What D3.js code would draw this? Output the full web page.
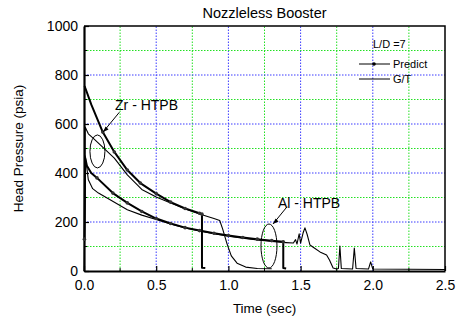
<!DOCTYPE html>
<html>
<head>
<meta charset="utf-8">
<script src="https://cdn.jsdelivr.net/npm/d3@7"></script>
<style>
  body { margin: 0; background: #fff; }
  text { font-family: "Liberation Sans", Arial, sans-serif; fill: #000; }
</style>
</head>
<body>
<div id="chart"></div>
<script>
// ==== DATA (time in sec, pressure in psia) ====
const ZR_PREDICT = [
  [0.004, 755], [0.05, 680], [0.13, 567], [0.21, 486], [0.30, 412], [0.39, 359],
  [0.50, 316], [0.60, 281], [0.70, 255], [0.80, 236], [0.817, 232], [0.817, 13], [0.84, 12]
];
const ZR_GT = [
  [0.002, 0], [0.008, 588], [0.03, 560], [0.076, 535], [0.21, 461], [0.30, 392], [0.40, 333],
  [0.50, 302], [0.60, 278], [0.70, 254], [0.80, 233], [0.90, 214], [0.94, 206],
  [0.96, 172], [0.99, 112], [1.02, 62], [1.06, 32], [1.12, 16], [1.20, 10], [1.30, 9]
];
const AL_PREDICT = [
  [0.003, 130], [0.008, 462], [0.02, 430], [0.05, 400], [0.09, 380], [0.20, 318], [0.30, 278],
  [0.40, 243], [0.50, 214], [0.60, 194], [0.70, 177], [0.80, 165], [0.90, 154],
  [1.00, 145], [1.10, 137], [1.20, 130], [1.30, 124], [1.38, 119], [1.38, 12], [1.40, 10]
];
const AL_GT = [
  [0.002, 0], [0.008, 470], [0.02, 420], [0.03, 372], [0.06, 336], [0.10, 318], [0.16, 298],
  [0.30, 250], [0.40, 228], [0.50, 210], [0.60, 192], [0.70, 176], [0.80, 163],
  [0.90, 152], [1.00, 142], [1.10, 134], [1.20, 127], [1.30, 121], [1.40, 116],
  [1.45, 114], [1.465, 128], [1.475, 110], [1.49, 152], [1.50, 114], [1.517, 155],
  [1.53, 176], [1.545, 150], [1.565, 106], [1.60, 92], [1.634, 78], [1.68, 65],
  [1.70, 45], [1.725, 12], [1.75, 8], [1.762, 10], [1.772, 102], [1.782, 10],
  [1.86, 8], [1.872, 94], [1.884, 10], [1.97, 8], [1.985, 37], [2.0, 8], [2.5, 6]
];
const X_TICKS = [0, 0.5, 1.0, 1.5, 2.0, 2.5];
const Y_TICKS = [0, 200, 400, 600, 800, 1000];
const X_MINOR = [0.25, 0.75, 1.25, 1.75, 2.25];
const Y_MINOR = [100, 300, 500, 700, 900];

// ==== SIZE / MARGINS ====
const width = 461, height = 321;
const margin = { top: 26, right: 16, bottom: 50, left: 84 };

const x = d3.scaleLinear().domain([0, 2.5]).range([margin.left, width - margin.right]);
const y = d3.scaleLinear().domain([0, 1000]).range([height - margin.bottom, margin.top]);

const svg = d3.select("#chart").append("svg")
  .attr("width", width).attr("height", height);

// grid
const grid = svg.append("g").attr("fill", "none").attr("stroke-width", 1).attr("stroke-dasharray", "1.5,1.5");
grid.selectAll("line.gxm").data(X_MINOR).enter().append("line")
  .attr("x1", d => x(d)).attr("x2", d => x(d)).attr("y1", y(0)).attr("y2", y(1000))
  .attr("stroke", "#22e022");
grid.selectAll("line.gxM").data(X_TICKS.slice(1, -1)).enter().append("line")
  .attr("x1", d => x(d)).attr("x2", d => x(d)).attr("y1", y(0)).attr("y2", y(1000))
  .attr("stroke", "#3a3aff");
grid.selectAll("line.gym").data(Y_MINOR).enter().append("line")
  .attr("y1", d => y(d)).attr("y2", d => y(d)).attr("x1", x(0)).attr("x2", x(2.5))
  .attr("stroke", "#22e022");
grid.selectAll("line.gyM").data(Y_TICKS.slice(1, -1)).enter().append("line")
  .attr("y1", d => y(d)).attr("y2", d => y(d)).attr("x1", x(0)).attr("x2", x(2.5))
  .attr("stroke", "#3a3aff");

// frame (top / right)
svg.append("path")
  .attr("d", `M${x(0)},${y(1000)}H${x(2.5)}V${y(0)}`)
  .attr("fill", "none").attr("stroke", "#000").attr("stroke-width", 1.5);

// axes
const gx = svg.append("g").attr("transform", `translate(0,${y(0)})`)
  .call(d3.axisBottom(x).tickValues(X_TICKS).tickFormat(d3.format(".1f")).tickSizeInner(-5).tickSizeOuter(0).tickPadding(9));
const gy = svg.append("g").attr("transform", `translate(${x(0)},0)`)
  .call(d3.axisLeft(y).tickValues(Y_TICKS).tickFormat(d3.format("d")).tickSizeInner(-5).tickSizeOuter(0).tickPadding(6));
[gx, gy].forEach(g => {
  g.select(".domain").attr("stroke-width", 2.2);
  g.selectAll(".tick text").attr("font-size", 14).attr("font-family", "Liberation Sans, Arial, sans-serif");
  g.selectAll(".tick line").attr("stroke-width", 1.2);
});
svg.append("g").selectAll("line").data(X_MINOR).enter().append("line")
  .attr("x1", d => x(d)).attr("x2", d => x(d)).attr("y1", y(0)).attr("y2", y(0) - 3)
  .attr("stroke", "#000");
svg.append("g").selectAll("line").data(Y_MINOR).enter().append("line")
  .attr("y1", d => y(d)).attr("y2", d => y(d)).attr("x1", x(0)).attr("x2", x(0) + 3)
  .attr("stroke", "#000");

// title & labels
svg.append("text").attr("x", (x(0) + x(2.5)) / 2).attr("y", 18)
  .attr("text-anchor", "middle").attr("font-size", 14.5).text("Nozzleless Booster");
svg.append("text").attr("x", (x(0) + x(2.5)) / 2).attr("y", 313)
  .attr("text-anchor", "middle").attr("font-size", 13.5).text("Time (sec)");
svg.append("text").attr("transform", `translate(23,${(y(0) + y(1000)) / 2}) rotate(-90)`)
  .attr("text-anchor", "middle").attr("font-size", 13.5).text("Head Pressure (psia)");

// lines
const line = d3.line().x(d => x(d[0])).y(d => y(d[1]));
const gLines = svg.append("g").attr("fill", "none").attr("stroke", "#000").attr("stroke-linejoin", "round");
[ZR_GT, AL_GT].forEach(s => gLines.append("path").attr("d", line(s)).attr("stroke-width", 1.1));
[ZR_PREDICT, AL_PREDICT].forEach(s => {
  gLines.append("path").attr("d", line(s)).attr("stroke-width", 2);
  svg.append("g").selectAll("circle")
    .data(s.filter(d => d[0] >= 0.09 && d[1] > 20)).enter().append("circle")
    .attr("cx", d => x(d[0])).attr("cy", d => y(d[1])).attr("r", 1.8).attr("fill", "#333");
});
svg.append("circle").attr("cx", x(AL_PREDICT[0][0])).attr("cy", y(AL_PREDICT[0][1])).attr("r", 1.8).attr("fill", "#333");

// annotations
const ann = svg.append("g").attr("fill", "none").attr("stroke", "#000").attr("stroke-width", 1);
ann.append("ellipse").attr("cx", x(0.093)).attr("cy", y(488)).attr("rx", 7.5).attr("ry", 16.5);
ann.append("ellipse").attr("cx", x(1.281)).attr("cy", y(102)).attr("rx", 8).attr("ry", 22);
ann.append("line").attr("x1", x(0.132)).attr("y1", y(567)).attr("x2", x(0.245)).attr("y2", y(648));
ann.append("line").attr("x1", x(1.309)).attr("y1", y(192)).attr("x2", x(1.406)).attr("y2", y(262));
svg.append("path").attr("d", `M${x(0.132)},${y(567)}l2.5,-5.5l3,3z`).attr("fill", "#000");
svg.append("path").attr("d", `M${x(1.309)},${y(192)}l2.5,-5.5l3,3z`).attr("fill", "#000");
svg.append("text").attr("x", x(0.215)).attr("y", 110).attr("font-size", 14).text("Zr - HTPB");
svg.append("text").attr("x", x(1.343)).attr("y", 208).attr("font-size", 14).text("Al - HTPB");

// legend
const lg = svg.append("g");
lg.append("text").attr("x", 373).attr("y", 48).attr("font-size", 11).text("L/D =7");
lg.append("line").attr("x1", 359).attr("x2", 390).attr("y1", 64).attr("y2", 64).attr("stroke", "#000");
lg.append("circle").attr("cx", 374).attr("cy", 64).attr("r", 1.8).attr("fill", "#000");
lg.append("text").attr("x", 393).attr("y", 68).attr("font-size", 11).text("Predict");
lg.append("line").attr("x1", 359).attr("x2", 390).attr("y1", 79).attr("y2", 79).attr("stroke", "#000");
lg.append("text").attr("x", 393).attr("y", 83).attr("font-size", 11).text("G/T");
</script>
</body>
</html>
